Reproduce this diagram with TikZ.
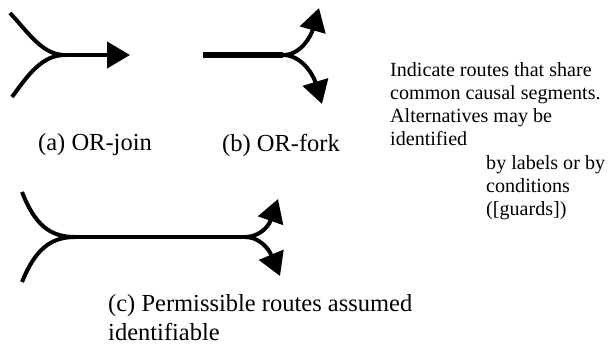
\documentclass[tikz,border=0pt]{standalone}
\usepackage{fontspec}
\setmainfont{Liberation Serif}
\usetikzlibrary{arrows.meta}
\begin{document}
\begin{tikzpicture}[x=1pt,y=-1pt,
  route/.style={line width=4pt,line cap=butt},
  tip/.style={-{Triangle[length=23pt,width=26pt]}},
  biglabel/.style={anchor=base west,inner sep=0pt,font=\fontsize{24.5pt}{29pt}\selectfont},
  note/.style={anchor=base west,inner sep=0pt,font=\fontsize{20.1pt}{23pt}\selectfont}]
\useasboundingbox (0,0) rectangle (608,349);
% (a) OR-join
\coordinate (a1) at (10,13);
\coordinate (a2) at (12,97);
\coordinate (aj) at (65,55);
\coordinate (ae) at (130,55);
\draw[route] (a1) .. controls (28,32) and (42,55) .. (aj);
\draw[route] (a2) .. controls (28,75) and (42,55) .. (aj);
\draw[route,tip] (aj) -- (ae);
% (b) OR-fork
\coordinate (b0) at (203,55);
\coordinate (bf) at (283,55);
\coordinate (bu) at (319,8);
\coordinate (bd) at (322,104);
\draw[line width=6pt] (b0) -- (bf);
\draw[route,tip] (bf) .. controls (301,55) and (311,36) .. (bu);
\draw[route,tip] (bf) .. controls (301,55) and (313,74) .. (bd);
% (c)
\coordinate (c1) at (22,192);
\coordinate (c2) at (22,282);
\coordinate (cj) at (75,237);
\coordinate (cf) at (245,237);
\coordinate (cu) at (278,199);
\coordinate (cd) at (280,276);
\draw[route] (c1) .. controls (35,225) and (50,237) .. (cj);
\draw[route] (c2) .. controls (35,250) and (50,237) .. (cj);
\draw[route] (cj) -- (cf);
\draw[route,tip] (cf) .. controls (258,237) and (268,228) .. (cu);
\draw[route,tip] (cf) .. controls (258,237) and (268,247) .. (cd);
% labels
\node[biglabel] (la) at (38,150) {(a) OR-join};
\node[biglabel] (lb) at (222,151) {(b) OR-fork};
\node[biglabel] (lc1) at (108,311) {(c) Permissible routes assumed};
\node[biglabel] (lc2) at (108,340) {identifiable};
\node[note] (n1) at (390,76) {Indicate routes that share};
\node[note] (n2) at (390,99) {common causal segments.};
\node[note] (n3) at (390,122) {Alternatives may be};
\node[note] (n4) at (390,145) {identified};
\node[note] (n5) at (486,169) {by labels or by};
\node[note] (n6) at (486,192) {conditions};
\node[note] (n7) at (486,215) {([guards])};
\end{tikzpicture}
\end{document}
